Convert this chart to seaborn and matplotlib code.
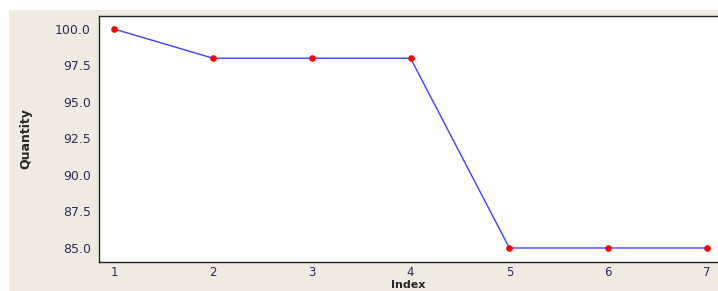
import matplotlib
matplotlib.use("Agg")
import matplotlib.pyplot as plt
import seaborn as sns
import pandas as pd

index = [1, 2, 3, 4, 5, 6, 7]
quantity = [100, 98, 98, 98, 85, 85, 85]
y_ticks = [85.0, 87.5, 90.0, 92.5, 95.0, 97.5, 100.0]

df = pd.DataFrame({"Index": index, "Quantity": quantity})

sns.set_style("white")
plt.rcParams["font.family"] = ["DejaVu Sans"]

fig = plt.figure(figsize=(7.18, 2.91), dpi=100, facecolor="white")
# beige panel behind the plot (white strip at top/left as in the screenshot)
fig.patches.append(plt.Rectangle((9 / 718, 0), 1, 1 - 10 / 291, transform=fig.transFigure,
                                 facecolor="#efebe1", edgecolor="none", zorder=-10))
ax = fig.add_axes([99 / 718, 1 - 262 / 291, 1 - 99 / 718, (262 - 16) / 291])
ax.set_facecolor("white")

sns.lineplot(data=df, x="Index", y="Quantity", color="#4040ff", linewidth=1, ax=ax)
ax.scatter(df["Index"], df["Quantity"], color="red", s=14, zorder=3)

ax.set_xlim(0.848, 7.111)
ax.set_ylim(84.04, 100.89)
ax.set_xticks(index)
ax.set_yticks(y_ticks)
ax.set_yticklabels([f"{v:.1f}" for v in y_ticks])
ax.tick_params(axis="both", direction="out", width=1, colors="#333333",
               labelcolor="#2c2c5a")
ax.tick_params(axis="y", pad=2, length=4, labelsize=9)
ax.tick_params(axis="x", pad=0, length=3, labelsize=8.5)

for s in ["left", "top", "bottom"]:
    ax.spines[s].set_color("#222222")
    ax.spines[s].set_linewidth(1)
ax.spines["right"].set_visible(False)

ax.set_xlabel("Index", fontsize=8, fontweight="bold")
ax.xaxis.set_label_coords(0.5, -(280 - 262) / 246)
ax.xaxis.label.set_verticalalignment("top")
ax.set_ylabel("Quantity", fontsize=9, fontweight="bold", labelpad=16)

fig.savefig("out.png", dpi=100, facecolor=fig.get_facecolor())
